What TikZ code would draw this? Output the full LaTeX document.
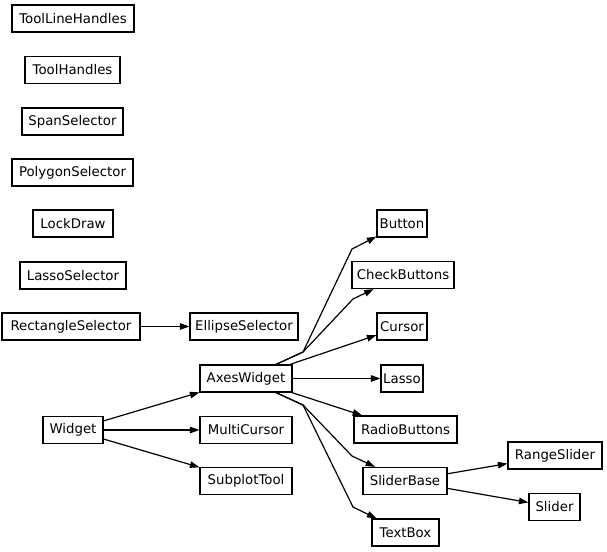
\documentclass[tikz,border=0pt]{standalone}
\usepackage{fontspec}
\setmainfont{DejaVu Sans}
\usetikzlibrary{arrows.meta,calc}
\begin{document}
\begin{tikzpicture}[x=1pt,y=-1pt,
  cls/.style={draw, line width=1.2pt, inner sep=0pt, minimum height=27pt, font=\fontsize{13.3}{15}\selectfont},
  edge/.style={line width=1.2pt, -{Triangle[length=9.5pt,width=6.5pt]}}]
\useasboundingbox (0,0) rectangle (607,551);
\node[cls, minimum width=122pt] (tlh) at (73,18.5) {ToolLineHandles};
\node[cls, minimum width=95pt] (th) at (72.5,70) {ToolHandles};
\node[cls, minimum width=101pt] (ss) at (72.5,121.5) {SpanSelector};
\node[cls, minimum width=121pt] (ps) at (72.5,172.5) {PolygonSelector};
\node[cls, minimum width=80pt] (ld) at (73,223.5) {LockDraw};
\node[cls, minimum width=106pt] (ls) at (73,275.5) {LassoSelector};
\node[cls, minimum width=138pt] (rs) at (71,326.5) {RectangleSelector};
\node[cls, minimum width=108pt] (es) at (244,326.5) {EllipseSelector};
\node[cls, minimum width=92pt] (aw) at (246,378.5) {AxesWidget};
\node[cls, minimum width=60pt] (w) at (73,430) {Widget};
\node[cls, minimum width=92pt] (mc) at (246,430) {MultiCursor};
\node[cls, minimum width=92pt] (st) at (246,481) {SubplotTool};
\node[cls, minimum width=50pt] (btn) at (402,223.5) {Button};
\node[cls, minimum width=102pt] (cb) at (403,275) {CheckButtons};
\node[cls, minimum width=50pt] (cur) at (402,326.5) {Cursor};
\node[cls, minimum width=42pt] (las) at (402,378.5) {Lasso};
\node[cls, minimum width=103pt] (rb) at (405.5,429.5) {RadioButtons};
\node[cls, minimum width=84pt] (sb) at (405,481) {SliderBase};
\node[cls, minimum width=67pt] (tb) at (405.5,532.5) {TextBox};
\node[cls, minimum width=94pt] (rsl) at (555,455.5) {RangeSlider};
\node[cls, minimum width=51pt] (sl) at (554.5,507) {Slider};

\draw[edge] (rs) -- (es);
\draw[edge] (w) -- (aw);
\draw[edge] (w) -- (mc);
\draw[edge] (w) -- (st);
\draw[edge] ($(aw.north)+(30,0)$) -- (303,352) -- (352,249) -- (btn);
\draw[edge] ($(aw.north)+(30,0)$) -- (303,352) -- (353,299) -- (cb);
\draw[edge] ($(aw.north)+(44,0)$) -- (cur);
\draw[edge] (aw) -- (las);
\draw[edge] ($(aw.south)+(46,0)$) -- (rb);
\draw[edge] ($(aw.south)+(30,0)$) -- (303,405) -- (352,456) -- (sb);
\draw[edge] ($(aw.south)+(30,0)$) -- (303,405) -- (353,507) -- (tb);
\draw[edge] (sb) -- (rsl);
\draw[edge] (sb) -- (sl);
\end{tikzpicture}
\end{document}
